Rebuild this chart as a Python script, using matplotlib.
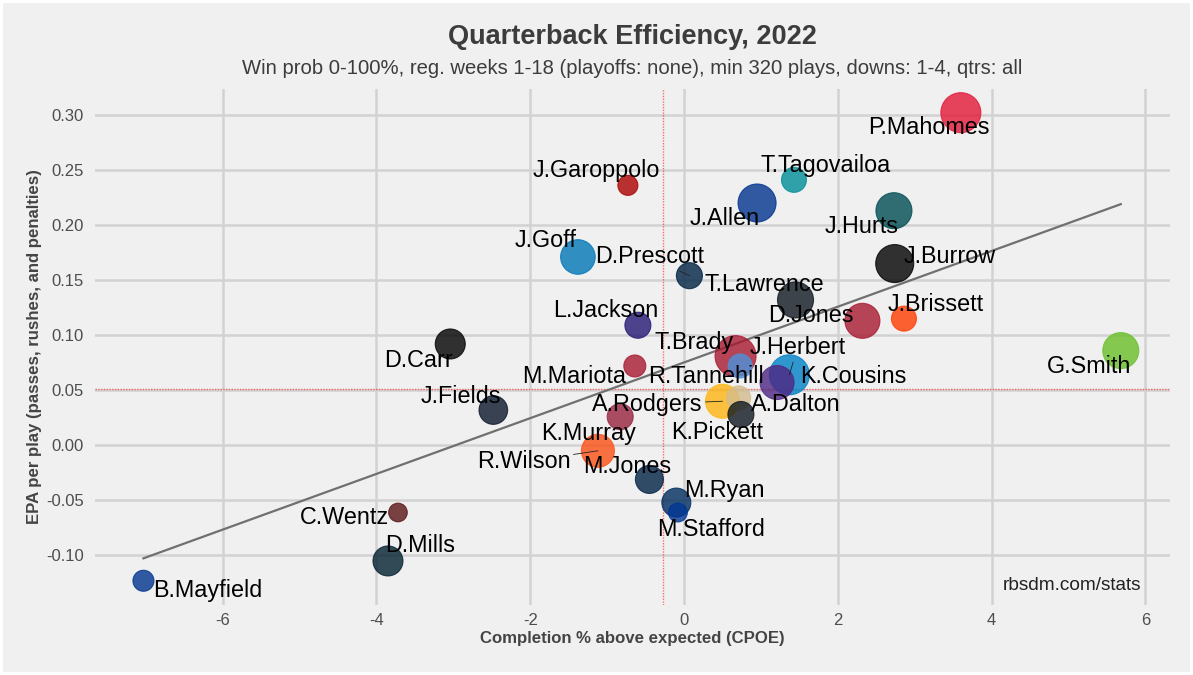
import numpy as np
import matplotlib
matplotlib.use('Agg')
from matplotlib import pyplot as plt
from matplotlib.patches import Rectangle

plt.rcParams['font.family'] = ['Liberation Sans', 'DejaVu Sans']

# quarterback data
names = ['P.Mahomes', 'T.Tagovailoa', 'J.Garoppolo', 'J.Allen', 'J.Hurts', 'J.Goff',
         'J.Burrow', 'D.Prescott', 'T.Lawrence', 'D.Jones', 'J.Brissett', 'L.Jackson',
         'D.Carr', 'G.Smith', 'T.Brady', 'R.Tannehill', 'J.Herbert', 'K.Cousins',
         'M.Mariota', 'A.Rodgers', 'A.Dalton', 'K.Pickett', 'J.Fields', 'K.Murray',
         'R.Wilson', 'M.Jones', 'M.Ryan', 'M.Stafford', 'C.Wentz', 'D.Mills', 'B.Mayfield']
cpoe = [3.60, 1.43, -0.73, 0.95, 2.73, -1.38,
        2.74, 0.07, 1.45, 2.32, 2.86, -0.60,
        -3.04, 5.68, 0.67, 0.73, 1.37, 1.21,
        -0.64, 0.50, 0.71, 0.74, -2.48, -0.83,
        -1.12, -0.45, -0.10, -0.08, -3.72, -3.85, -7.03]
epa = [0.302, 0.241, 0.236, 0.220, 0.213, 0.171,
       0.165, 0.154, 0.132, 0.113, 0.115, 0.109,
       0.092, 0.086, 0.081, 0.072, 0.064, 0.057,
       0.072, 0.040, 0.043, 0.028, 0.032, 0.026,
       -0.005, -0.031, -0.052, -0.061, -0.061, -0.105, -0.123]
plays = [760, 431, 356, 708, 658, 624,
         708, 449, 658, 634, 431, 449,
         524, 658, 787, 415, 760, 610,
         384, 610, 415, 449, 497, 449,
         588, 485, 504, 342, 338, 524, 370]
colors = ['#E31837', '#008E97', '#AA0000', '#00338D', '#004C54', '#0076B6',
          '#000000', '#002244', '#101820', '#A71930', '#FF3C00', '#241773',
          '#000000', '#69BE28', '#A71930', '#4B92DB', '#0080C6', '#4F2683',
          '#A71930', '#FFB612', '#D3BC8D', '#101820', '#0B162A', '#97233F',
          '#FB4F14', '#002244', '#002C5F', '#003594', '#5A1414', '#03202F', '#00338D']
avg_cpoe = -0.27
avg_epa = 0.051

xticks = [-6, -4, -2, 0, 2, 4, 6]
yticks = [-0.10, -0.05, 0.00, 0.05, 0.10, 0.15, 0.20, 0.25, 0.30]

# label offsets in pixels (dx right, dy down) and which get a leader line
label_off = [(-32, 15), (32, -14), (-32, -15), (-32, 16), (-32, 16), (-32, -16),
             (55, -7), (-40, -19), (-31, -15), (-52, -5), (32, -14), (-32, -15),
             (-32, 17), (-32, 16), (-41, -14), (-34, 11), (8, -27), (76, -6),
             (-61, 11), (-75, 3), (57, 7), (-24, 18), (-32, -14), (-32, 17),
             (-74, 11), (-22, -13), (48, -12), (33, 17), (-54, 5), (32, -15), (64, 10)]
leader = ['D.Prescott', 'J.Herbert', 'A.Rodgers', 'R.Wilson']

W, H = 1193, 675
fig = plt.figure(figsize=(W / 100, H / 100), dpi=100)
fig.patch.set_facecolor('white')
fig.patches.append(Rectangle((3 / W, 3 / H), 1 - 6 / W, 1 - 6 / H, transform=fig.transFigure,
                             facecolor='#f0f0f0', edgecolor='none', zorder=-10))

ax = fig.add_axes([95 / W, 1 - 605 / H, (1170 - 95) / W, (605 - 89) / H])
ax.set_facecolor('#f0f0f0')
ax.patch.set_alpha(0)
ax.set_xlim(-7.66, 6.32)
ax.set_ylim(-0.145, 0.3235)
ax.set_xticks(xticks)
ax.set_yticks(yticks)
ax.set_xticklabels([str(t) for t in xticks])
ax.set_yticklabels(['%.2f' % t for t in yticks])
ax.grid(True, color='#d2d2d2', linewidth=1.8, zorder=0)
ax.set_axisbelow(True)
for s in ax.spines.values():
    s.set_visible(False)
ax.tick_params(length=0, labelsize=12, labelcolor='#4d4d4d', pad=8)
ax.tick_params(axis='x', pad=6)

ax.axvline(avg_cpoe, color='#ff0000', alpha=0.55, linewidth=1, linestyle=(0, (1, 1)), zorder=1)
ax.axhline(avg_epa, color='#ff0000', alpha=0.55, linewidth=1, linestyle=(0, (1, 1)), zorder=1)

x = np.array(cpoe)
y = np.array(epa)
k, b = np.polyfit(x, y, 1)
xs = np.array([x.min(), x.max()])
ax.plot(xs, k * xs + b, color='#707070', linewidth=1.6, zorder=2)

r_px = np.sqrt(0.742 * np.array(plays) - 164)
sizes = (2 * r_px * 0.72) ** 2
ax.scatter(x, y, s=sizes, c=colors, alpha=0.8, edgecolors=colors, linewidths=0.8, zorder=3)

for i, n in enumerate(names):
    dx, dy = label_off[i]
    kw = {}
    if n in leader:
        kw['arrowprops'] = dict(arrowstyle='-', color='#222222', lw=0.6, shrinkA=0, shrinkB=0)
    ax.annotate(n, (cpoe[i], epa[i]), xytext=(dx * 0.72, -dy * 0.72), textcoords='offset points',
                ha='center', va='center', fontsize=16.8, color='black', zorder=4, **kw)

cx = 632.5 / W
fig.text(cx, 1 - 37 / H, 'Quarterback Efficiency, 2022', ha='center', va='center',
         fontsize=19.5, fontweight='bold', color='#3c3c3c')
fig.text(cx, 1 - 68 / H, 'Win prob 0-100%, reg. weeks 1-18 (playoffs: none), min 320 plays, downs: 1-4, qtrs: all',
         ha='center', va='center', fontsize=14.6, color='#3c3c3c')
fig.text(cx, 1 - 639 / H, 'Completion % above expected (CPOE)', ha='center', va='center',
         fontsize=12.1, fontweight='bold', color='#444444')
fig.text(35 / W, 1 - 347 / H, 'EPA per play (passes, rushes, and penalties)', ha='center', va='center',
         rotation=90, fontsize=12.1, fontweight='bold', color='#444444')
fig.text(1141 / W, 1 - 586 / H, 'rbsdm.com/stats', ha='right', va='center', fontsize=13.7, color='#222222')

fig.savefig('out.png', dpi=100, facecolor=fig.get_facecolor())
